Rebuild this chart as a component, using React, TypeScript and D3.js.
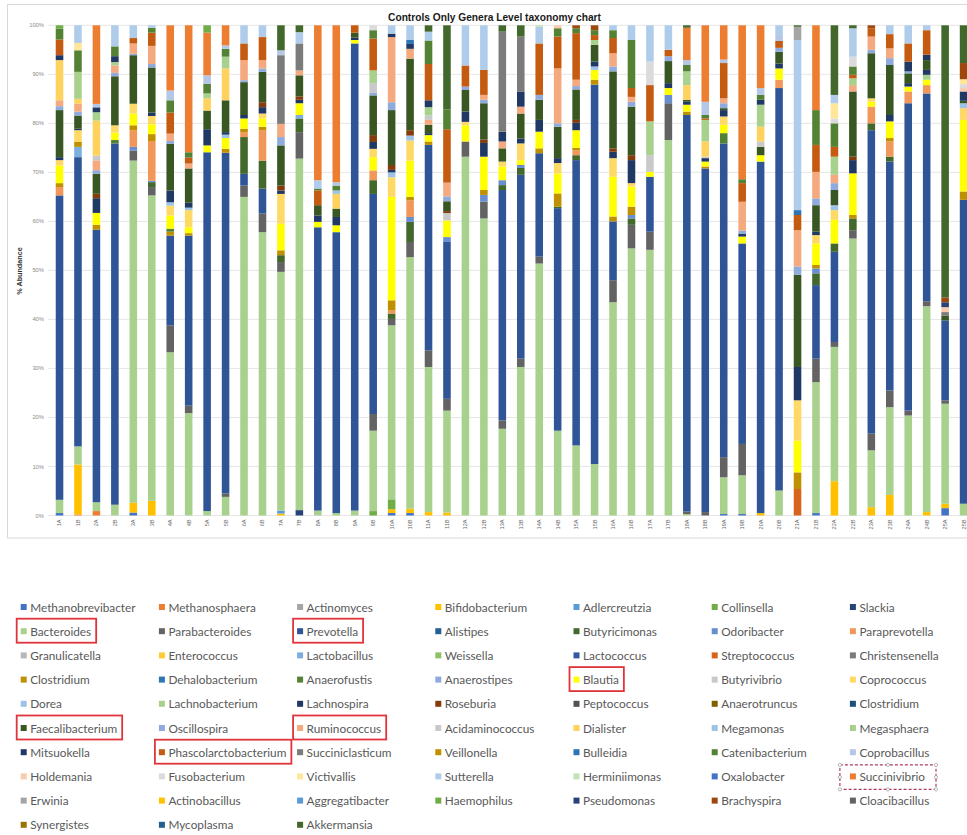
import React from "react";
import * as d3 from "d3";

type Seg = [string, number];

// ---- categories (legend order = stacking order, bottom to top) ----
const genusKeys = [
  "Methanobrevibacter", "Methanosphaera", "Actinomyces", "Bifidobacterium", "Adlercreutzia", "Collinsella", "Slackia",
  "Bacteroides", "Parabacteroides", "Prevotella", "Alistipes", "Butyricimonas", "Odoribacter", "Paraprevotella",
  "Granulicatella", "Enterococcus", "Lactobacillus", "Weissella", "Lactococcus", "Streptococcus", "Christensenella",
  "Clostridium", "Dehalobacterium", "Anaerofustis", "Anaerostipes", "Blautia", "Butyrivibrio", "Coprococcus",
  "Dorea", "Lachnobacterium", "Lachnospira", "Roseburia", "Peptococcus", "Anaerotruncus", "Clostridium#2",
  "Faecalibacterium", "Oscillospira", "Ruminococcus", "Acidaminococcus", "Dialister", "Megamonas", "Megasphaera",
  "Mitsuokella", "Phascolarctobacterium", "Succiniclasticum", "Veillonella", "Bulleidia", "Catenibacterium", "Coprobacillus",
  "Holdemania", "Fusobacterium", "Victivallis", "Sutterella", "Herminiimonas", "Oxalobacter", "Succinivibrio",
  "Erwinia", "Actinobacillus", "Aggregatibacter", "Haemophilus", "Pseudomonas", "Brachyspira", "Cloacibacillus",
  "Synergistes", "Mycoplasma", "Akkermansia",
];

const genusColors = [
  "#4472C4", "#ED7D31", "#A5A5A5", "#FFC000", "#5B9BD5", "#70AD47", "#264478",
  "#A9D18E", "#636363", "#2F5597", "#255E91", "#43682B", "#698ED0", "#F1975A",
  "#B7B7B7", "#FFCD33", "#7CAFDD", "#8CC168", "#335AA1", "#D6651B", "#7B7B7B",
  "#BF9000", "#2E75B6", "#548235", "#8FAADC", "#FFFF00", "#C9C9C9", "#FFD966",
  "#9DC3E6", "#A9D18E", "#203864", "#843C0C", "#525252", "#7F6000", "#1F4E79",
  "#385723", "#8FAADC", "#F4A97E", "#C9C9C9", "#FFD25E", "#9DC3E6", "#A9D18E",
  "#203864", "#C55A11", "#7B7B7B", "#BF9000", "#2E75B6", "#548235", "#B4C7E7",
  "#F8CBAD", "#DBDBDB", "#FFE699", "#AFCDEB", "#C5E0B4", "#4472C4", "#ED7D31",
  "#A5A5A5", "#FFC000", "#5B9BD5", "#70AD47", "#264478", "#9E480E", "#636363",
  "#997300", "#255E91", "#43682B",
];

const sampleLabels = [
  "1A", "1B", "2A", "2B", "3A", "3B", "4A", "4B", "5A", "5B", "6A", "6B", "7A", "7B", "8A", "8B", "9A", "9B",
  "10A", "10B", "11A", "11B", "12A", "12B", "13A", "13B", "14A", "14B", "15A", "15B", "16A", "16B", "17A", "17B",
  "18A", "18B", "19A", "19B", "20A", "20B", "21A", "21B", "22A", "22B", "23A", "23B", "24A", "24B", "25A", "25B",
];

const yTicks = [0, 10, 20, 30, 40, 50, 60, 70, 80, 90, 100];

const highlighted = ["Bacteroides", "Prevotella", "Blautia", "Faecalibacterium", "Ruminococcus", "Phascolarctobacterium"];
const dashedHighlight = ["Succinivibrio"];

// ---- series values: % abundance per sample (genus, value) ----
const s1A: Seg[] = [["Methanobrevibacter", 0.5], ["Bacteroides", 2.7], ["Prevotella", 62.1], ["Paraprevotella", 1.7], ["Clostridium", 0.8], ["Blautia", 3.6], ["Coprococcus", 1.1], ["Lachnospira", 0.6], ["Faecalibacterium", 9.6], ["Oscillospira", 0.8], ["Ruminococcus", 1.2], ["Dialister", 8.2], ["Mitsuokella", 1.0], ["Phascolarctobacterium", 3.2], ["Catenibacterium", 2.2], ["Haemophilus", 0.7]];
const s1B: Seg[] = [["Methanosphaera", 0.2], ["Bifidobacterium", 10.2], ["Bacteroides", 3.7], ["Prevotella", 59.0], ["Lactobacillus", 2.1], ["Clostridium", 1.0], ["Coprococcus", 2.4], ["Lachnospira", 0.3], ["Faecalibacterium", 2.7], ["Oscillospira", 0.8], ["Ruminococcus", 1.6], ["Dialister", 1.0], ["Megasphaera", 5.5], ["Catenibacterium", 4.4], ["Victivallis", 1.5], ["Sutterella", 3.6]];
const s2A: Seg[] = [["Methanosphaera", 0.9], ["Bacteroides", 1.8], ["Prevotella", 55.5], ["Clostridium", 1.0], ["Blautia", 2.4], ["Lachnospira", 3.0], ["Roseburia", 0.9], ["Faecalibacterium", 4.1], ["Oscillospira", 0.7], ["Ruminococcus", 2.0], ["Acidaminococcus", 1.0], ["Dialister", 7.1], ["Megasphaera", 1.7], ["Mitsuokella", 1.0], ["Coprobacillus", 0.7], ["Succinivibrio", 16.0]];
const s2B: Seg[] = [["Bacteroides", 2.2], ["Prevotella", 73.7], ["Anaerofustis", 0.7], ["Blautia", 1.5], ["Coprococcus", 1.5], ["Faecalibacterium", 10.0], ["Oscillospira", 0.7], ["Ruminococcus", 1.5], ["Megasphaera", 0.7], ["Mitsuokella", 1.2], ["Catenibacterium", 2.0], ["Sutterella", 4.3]];
const s3A: Seg[] = [["Methanobrevibacter", 0.6], ["Bifidobacterium", 2.0], ["Bacteroides", 69.8], ["Parabacteroides", 2.0], ["Odoribacter", 0.8], ["Paraprevotella", 3.4], ["Clostridium", 1.0], ["Blautia", 2.4], ["Coprococcus", 2.0], ["Faecalibacterium", 9.9], ["Oscillospira", 0.3], ["Ruminococcus", 2.1], ["Phascolarctobacterium", 1.1], ["Sutterella", 2.6]];
const s3B: Seg[] = [["Bifidobacterium", 3.0], ["Bacteroides", 62.3], ["Parabacteroides", 1.7], ["Butyricimonas", 1.0], ["Odoribacter", 0.3], ["Paraprevotella", 8.1], ["Clostridium", 1.4], ["Blautia", 2.0], ["Coprococcus", 1.7], ["Lachnospira", 0.7], ["Faecalibacterium", 9.2], ["Oscillospira", 0.7], ["Ruminococcus", 3.7], ["Phascolarctobacterium", 2.7], ["Catenibacterium", 1.0], ["Sutterella", 0.5]];
const s4A: Seg[] = [["Bacteroides", 33.3], ["Parabacteroides", 5.5], ["Prevotella", 18.3], ["Clostridium", 0.8], ["Anaerofustis", 0.6], ["Blautia", 2.7], ["Coprococcus", 2.0], ["Dorea", 0.7], ["Lachnospira", 2.4], ["Faecalibacterium", 9.5], ["Oscillospira", 0.6], ["Ruminococcus", 1.5], ["Phascolarctobacterium", 4.3], ["Catenibacterium", 2.5], ["Coprobacillus", 2.0], ["Succinivibrio", 13.3]];
const s4B: Seg[] = [["Bacteroides", 20.9], ["Parabacteroides", 1.5], ["Prevotella", 34.7], ["Clostridium", 0.5], ["Blautia", 1.2], ["Coprococcus", 3.5], ["Dorea", 0.5], ["Lachnospira", 1.0], ["Faecalibacterium", 7.0], ["Ruminococcus", 1.0], ["Phascolarctobacterium", 1.2], ["Catenibacterium", 1.1], ["Succinivibrio", 25.9]];
const s5A: Seg[] = [["Bacteroides", 0.9], ["Prevotella", 73.2], ["Blautia", 1.4], ["Lachnospira", 3.3], ["Faecalibacterium", 3.8], ["Dialister", 2.5], ["Megasphaera", 1.0], ["Catenibacterium", 2.0], ["Coprobacillus", 1.7], ["Succinivibrio", 8.7], ["Haemophilus", 1.5]];
const s5B: Seg[] = [["Bacteroides", 3.8], ["Parabacteroides", 0.7], ["Prevotella", 69.5], ["Clostridium", 0.8], ["Blautia", 2.2], ["Dorea", 0.7], ["Lachnospira", 0.5], ["Faecalibacterium", 6.5], ["Dialister", 6.5], ["Megasphaera", 2.4], ["Catenibacterium", 1.6], ["Coprobacillus", 0.7], ["Succinivibrio", 4.1]];
const s6A: Seg[] = [["Bacteroides", 65.0], ["Parabacteroides", 2.3], ["Prevotella", 2.4], ["Butyricimonas", 7.5], ["Paraprevotella", 1.0], ["Clostridium", 0.7], ["Blautia", 2.1], ["Lachnospira", 0.7], ["Faecalibacterium", 6.7], ["Oscillospira", 0.4], ["Ruminococcus", 4.1], ["Phascolarctobacterium", 3.4], ["Sutterella", 3.7]];
const s6B: Seg[] = [["Bacteroides", 57.8], ["Parabacteroides", 3.8], ["Prevotella", 5.1], ["Butyricimonas", 5.7], ["Paraprevotella", 6.2], ["Clostridium", 0.7], ["Blautia", 1.7], ["Coprococcus", 1.0], ["Lachnospira", 1.3], ["Roseburia", 1.0], ["Faecalibacterium", 6.2], ["Oscillospira", 0.7], ["Ruminococcus", 1.7], ["Phascolarctobacterium", 4.7], ["Sutterella", 2.4]];
const s7A: Seg[] = [["Bifidobacterium", 0.4], ["Adlercreutzia", 0.6], ["Bacteroides", 48.7], ["Parabacteroides", 2.0], ["Butyricimonas", 1.4], ["Clostridium", 1.0], ["Blautia", 5.4], ["Coprococcus", 6.1], ["Lachnospira", 0.7], ["Roseburia", 1.0], ["Faecalibacterium", 8.2], ["Oscillospira", 1.7], ["Ruminococcus", 2.7], ["Succiniclasticum", 14.0], ["Coprobacillus", 1.0], ["Akkermansia", 5.1]];
const s7B: Seg[] = [["Slackia", 1.1], ["Bacteroides", 71.7], ["Parabacteroides", 5.4], ["Butyricimonas", 2.8], ["Lactobacillus", 0.7], ["Blautia", 2.4], ["Lachnospira", 0.7], ["Roseburia", 0.7], ["Faecalibacterium", 4.3], ["Ruminococcus", 1.0], ["Succiniclasticum", 5.5], ["Sutterella", 2.3], ["Akkermansia", 1.4]];
const s8A: Seg[] = [["Bacteroides", 1.0], ["Prevotella", 57.8], ["Blautia", 1.1], ["Lachnospira", 1.3], ["Faecalibacterium", 2.1], ["Phascolarctobacterium", 3.0], ["Catenibacterium", 0.4], ["Sutterella", 1.7], ["Succinivibrio", 31.6]];
const s8B: Seg[] = [["Bacteroides", 0.5], ["Prevotella", 57.3], ["Blautia", 1.4], ["Lachnospira", 1.7], ["Faecalibacterium", 1.7], ["Dialister", 3.0], ["Megamonas", 0.7], ["Catenibacterium", 1.0], ["Coprobacillus", 0.7], ["Succinivibrio", 32.0]];
const s9A: Seg[] = [["Bacteroides", 1.0], ["Prevotella", 95.3], ["Blautia", 0.7], ["Lachnospira", 0.5], ["Faecalibacterium", 1.0], ["Phascolarctobacterium", 1.5]];
const s9B: Seg[] = [["Collinsella", 0.9], ["Bacteroides", 16.4], ["Parabacteroides", 3.4], ["Prevotella", 44.9], ["Butyricimonas", 2.8], ["Paraprevotella", 2.0], ["Blautia", 2.7], ["Coprococcus", 1.7], ["Lachnospira", 1.4], ["Roseburia", 1.4], ["Faecalibacterium", 8.1], ["Oscillospira", 0.5], ["Acidaminococcus", 2.0], ["Megasphaera", 2.6], ["Phascolarctobacterium", 6.5], ["Catenibacterium", 1.7], ["Fusobacterium", 1.0]];
const s10A: Seg[] = [["Methanobrevibacter", 0.5], ["Bifidobacterium", 0.8], ["Collinsella", 2.0], ["Bacteroides", 35.5], ["Parabacteroides", 1.3], ["Butyricimonas", 1.1], ["Paraprevotella", 0.6], ["Clostridium", 2.1], ["Blautia", 21.1], ["Coprococcus", 4.0], ["Dorea", 1.0], ["Lachnospira", 0.5], ["Roseburia", 1.0], ["Faecalibacterium", 11.2], ["Oscillospira", 1.6], ["Ruminococcus", 13.3], ["Mitsuokella", 0.7], ["Sutterella", 1.7]];
const s10B: Seg[] = [["Methanobrevibacter", 0.5], ["Bifidobacterium", 0.9], ["Bacteroides", 51.3], ["Parabacteroides", 3.1], ["Butyricimonas", 4.1], ["Odoribacter", 1.0], ["Paraprevotella", 3.4], ["Clostridium", 0.7], ["Blautia", 7.4], ["Coprococcus", 4.1], ["Dorea", 1.0], ["Roseburia", 1.1], ["Faecalibacterium", 14.6], ["Ruminococcus", 2.0], ["Mitsuokella", 1.0], ["Bulleidia", 0.8], ["Sutterella", 3.0]];
const s11A: Seg[] = [["Bifidobacterium", 0.7], ["Bacteroides", 29.6], ["Parabacteroides", 3.4], ["Prevotella", 41.9], ["Clostridium", 0.7], ["Blautia", 1.3], ["Lachnospira", 0.4], ["Faecalibacterium", 1.7], ["Ruminococcus", 1.0], ["Acidaminococcus", 0.9], ["Megasphaera", 1.7], ["Mitsuokella", 1.4], ["Phascolarctobacterium", 7.4], ["Catenibacterium", 4.8], ["Sutterella", 1.8], ["Akkermansia", 1.3]];
const s11B: Seg[] = [["Bifidobacterium", 0.6], ["Bacteroides", 20.8], ["Parabacteroides", 2.4], ["Prevotella", 32.0], ["Odoribacter", 1.0], ["Blautia", 3.4], ["Butyrivibrio", 1.5], ["Roseburia", 0.4], ["Faecalibacterium", 2.0], ["Oscillospira", 1.0], ["Ruminococcus", 2.8], ["Phascolarctobacterium", 10.9], ["Catenibacterium", 4.0], ["Akkermansia", 17.2]];
const s12A: Seg[] = [["Bacteroides", 73.2], ["Parabacteroides", 3.1], ["Blautia", 3.3], ["Coprococcus", 0.7], ["Lachnospira", 2.1], ["Faecalibacterium", 4.4], ["Oscillospira", 0.7], ["Phascolarctobacterium", 4.3], ["Sutterella", 8.2]];
const s12B: Seg[] = [["Bacteroides", 60.6], ["Parabacteroides", 3.4], ["Odoribacter", 1.4], ["Clostridium", 1.0], ["Blautia", 6.8], ["Lachnospira", 2.8], ["Roseburia", 0.7], ["Faecalibacterium", 7.4], ["Oscillospira", 0.7], ["Ruminococcus", 1.0], ["Phascolarctobacterium", 5.1], ["Sutterella", 9.1]];
const s13A: Seg[] = [["Bacteroides", 17.7], ["Parabacteroides", 1.7], ["Prevotella", 47.0], ["Butyricimonas", 1.0], ["Odoribacter", 1.0], ["Blautia", 2.8], ["Coprococcus", 1.0], ["Faecalibacterium", 2.7], ["Ruminococcus", 1.4], ["Mitsuokella", 2.0], ["Succiniclasticum", 20.4], ["Akkermansia", 1.3]];
const s13B: Seg[] = [["Bacteroides", 30.3], ["Parabacteroides", 1.7], ["Prevotella", 37.5], ["Butyricimonas", 1.4], ["Odoribacter", 0.6], ["Blautia", 1.0], ["Coprococcus", 3.4], ["Lachnospira", 1.0], ["Faecalibacterium", 5.1], ["Ruminococcus", 1.4], ["Mitsuokella", 3.1], ["Succiniclasticum", 11.2], ["Akkermansia", 2.3]];
const s14A: Seg[] = [["Bacteroides", 51.4], ["Parabacteroides", 1.4], ["Prevotella", 21.1], ["Clostridium", 1.0], ["Blautia", 3.4], ["Lachnospira", 2.4], ["Faecalibacterium", 4.1], ["Oscillospira", 1.0], ["Phascolarctobacterium", 10.5], ["Sutterella", 3.4], ["Herminiimonas", 0.3]];
const s14B: Seg[] = [["Bacteroides", 17.3], ["Prevotella", 45.4], ["Butyricimonas", 0.3], ["Clostridium", 2.7], ["Blautia", 4.1], ["Coprococcus", 2.1], ["Lachnospira", 1.0], ["Faecalibacterium", 6.4], ["Oscillospira", 0.7], ["Ruminococcus", 11.2], ["Phascolarctobacterium", 6.5], ["Catenibacterium", 1.7], ["Holdemania", 0.6]];
const s15A: Seg[] = [["Bacteroides", 14.3], ["Prevotella", 58.2], ["Butyricimonas", 1.0], ["Paraprevotella", 1.0], ["Clostridium", 0.5], ["Blautia", 3.6], ["Lachnospira", 1.5], ["Roseburia", 0.6], ["Faecalibacterium", 6.2], ["Oscillospira", 0.7], ["Ruminococcus", 1.3], ["Phascolarctobacterium", 9.5], ["Catenibacterium", 1.0], ["Brachyspira", 0.6]];
const s15B: Seg[] = [["Bacteroides", 10.5], ["Prevotella", 77.4], ["Clostridium", 1.0], ["Blautia", 2.0], ["Dorea", 0.7], ["Lachnospira", 1.0], ["Faecalibacterium", 3.4], ["Megasphaera", 1.0], ["Phascolarctobacterium", 1.0], ["Catenibacterium", 1.0], ["Brachyspira", 1.0]];
const s16A: Seg[] = [["Bacteroides", 43.5], ["Parabacteroides", 4.5], ["Prevotella", 12.0], ["Clostridium", 1.0], ["Blautia", 8.1], ["Coprococcus", 3.8], ["Lachnospira", 1.3], ["Roseburia", 0.7], ["Faecalibacterium", 15.7], ["Oscillospira", 1.0], ["Ruminococcus", 2.7], ["Phascolarctobacterium", 3.1], ["Catenibacterium", 1.6], ["Sutterella", 1.0]];
const s16B: Seg[] = [["Bacteroides", 54.5], ["Parabacteroides", 4.8], ["Butyricimonas", 1.3], ["Odoribacter", 0.7], ["Clostridium", 1.7], ["Blautia", 4.1], ["Coprococcus", 0.7], ["Lachnospira", 4.7], ["Roseburia", 1.0], ["Faecalibacterium", 9.9], ["Oscillospira", 1.0], ["Ruminococcus", 1.0], ["Phascolarctobacterium", 1.8], ["Catenibacterium", 9.8], ["Sutterella", 3.0]];
const s17A: Seg[] = [["Bacteroides", 54.2], ["Parabacteroides", 3.7], ["Prevotella", 11.2], ["Blautia", 1.0], ["Butyrivibrio", 3.4], ["Megasphaera", 6.9], ["Phascolarctobacterium", 7.4], ["Fusobacterium", 4.8], ["Sutterella", 7.4]];
const s17B: Seg[] = [["Bacteroides", 76.6], ["Parabacteroides", 7.5], ["Odoribacter", 1.7], ["Blautia", 1.4], ["Lachnospira", 1.0], ["Faecalibacterium", 4.5], ["Oscillospira", 1.0], ["Phascolarctobacterium", 1.3], ["Sutterella", 5.0]];
const s18A: Seg[] = [["Bacteroides", 0.3], ["Parabacteroides", 0.5], ["Prevotella", 80.9], ["Clostridium", 0.7], ["Blautia", 1.4], ["Lachnospira", 0.6], ["Faecalibacterium", 0.4], ["Dialister", 3.0], ["Megasphaera", 2.8], ["Catenibacterium", 1.3], ["Coprobacillus", 1.0], ["Succinivibrio", 6.6], ["Akkermansia", 0.5]];
const s18B: Seg[] = [["Parabacteroides", 0.7], ["Prevotella", 70.1], ["Clostridium", 0.4], ["Blautia", 1.0], ["Lachnospira", 0.7], ["Acidaminococcus", 0.3], ["Dialister", 3.1], ["Megasphaera", 4.4], ["Phascolarctobacterium", 0.3], ["Catenibacterium", 0.7], ["Coprobacillus", 2.7], ["Succinivibrio", 15.6]];
const s19A: Seg[] = [["Methanobrevibacter", 0.3], ["Bacteroides", 7.5], ["Parabacteroides", 4.1], ["Prevotella", 64.0], ["Anaerofustis", 2.1], ["Blautia", 1.7], ["Coprococcus", 1.7], ["Lachnospira", 1.3], ["Faecalibacterium", 0.4], ["Oscillospira", 1.0], ["Ruminococcus", 1.0], ["Phascolarctobacterium", 7.2], ["Coprobacillus", 0.7], ["Succinivibrio", 7.0]];
const s19B: Seg[] = [["Methanobrevibacter", 0.3], ["Bacteroides", 7.9], ["Parabacteroides", 6.4], ["Prevotella", 40.9], ["Blautia", 1.4], ["Lachnospira", 0.6], ["Oscillospira", 0.6], ["Ruminococcus", 5.9], ["Phascolarctobacterium", 3.8], ["Catenibacterium", 0.8], ["Succinivibrio", 31.4]];
const s20A: Seg[] = [["Bifidobacterium", 0.5], ["Prevotella", 71.7], ["Blautia", 1.3], ["Faecalibacterium", 1.7], ["Acidaminococcus", 1.1], ["Dialister", 3.0], ["Megasphaera", 4.5], ["Mitsuokella", 1.0], ["Catenibacterium", 1.0], ["Coprobacillus", 1.4], ["Succinivibrio", 12.8]];
const s20B: Seg[] = [["Bacteroides", 5.1], ["Prevotella", 82.1], ["Paraprevotella", 1.7], ["Blautia", 2.3], ["Lachnospira", 1.0], ["Faecalibacterium", 2.4], ["Oscillospira", 0.8], ["Phascolarctobacterium", 1.4], ["Coprobacillus", 1.2], ["Sutterella", 2.0]];
const s21A: Seg[] = [["Streptococcus", 5.4], ["Clostridium", 3.4], ["Blautia", 6.5], ["Coprococcus", 8.2], ["Lachnospira", 6.8], ["Faecalibacterium", 18.8], ["Oscillospira", 1.7], ["Ruminococcus", 7.4], ["Phascolarctobacterium", 3.1], ["Bulleidia", 1.0], ["Sutterella", 34.7], ["Erwinia", 2.7], ["Akkermansia", 0.3]];
const s21B: Seg[] = [["Methanobrevibacter", 0.5], ["Bacteroides", 26.7], ["Parabacteroides", 4.8], ["Prevotella", 15.0], ["Butyricimonas", 2.4], ["Odoribacter", 1.0], ["Clostridium", 0.7], ["Blautia", 4.4], ["Coprococcus", 1.7], ["Lachnospira", 0.7], ["Faecalibacterium", 5.4], ["Oscillospira", 1.4], ["Ruminococcus", 5.4], ["Phascolarctobacterium", 5.5], ["Catenibacterium", 7.1], ["Succinivibrio", 17.3]];
const s22A: Seg[] = [["Bifidobacterium", 7.0], ["Bacteroides", 27.4], ["Parabacteroides", 1.0], ["Prevotella", 18.4], ["Butyricimonas", 1.7], ["Blautia", 4.8], ["Coprococcus", 2.0], ["Dorea", 1.0], ["Faecalibacterium", 3.1], ["Oscillospira", 1.4], ["Ruminococcus", 1.7], ["Megasphaera", 3.7], ["Phascolarctobacterium", 2.0], ["Catenibacterium", 4.8], ["Fusobacterium", 1.0], ["Victivallis", 3.1], ["Sutterella", 1.7], ["Akkermansia", 14.2]];
const s22B: Seg[] = [["Bacteroides", 56.5], ["Parabacteroides", 1.7], ["Butyricimonas", 2.4], ["Clostridium", 0.7], ["Blautia", 8.5], ["Lachnospira", 2.7], ["Roseburia", 0.7], ["Faecalibacterium", 13.3], ["Ruminococcus", 1.3], ["Megasphaera", 1.4], ["Phascolarctobacterium", 0.7], ["Catenibacterium", 1.7], ["Fusobacterium", 2.0], ["Sutterella", 5.8], ["Akkermansia", 0.6]];
const s23A: Seg[] = [["Bifidobacterium", 1.7], ["Bacteroides", 11.6], ["Parabacteroides", 3.4], ["Prevotella", 61.9], ["Butyricimonas", 1.4], ["Paraprevotella", 3.4], ["Blautia", 1.0], ["Coprococcus", 0.7], ["Faecalibacterium", 9.2], ["Oscillospira", 0.7], ["Ruminococcus", 2.7], ["Phascolarctobacterium", 1.7], ["Brachyspira", 0.6]];
const s23B: Seg[] = [["Bifidobacterium", 4.2], ["Bacteroides", 17.9], ["Parabacteroides", 3.4], ["Prevotella", 46.7], ["Butyricimonas", 1.0], ["Paraprevotella", 3.1], ["Clostridium", 0.7], ["Blautia", 3.4], ["Lachnospira", 1.3], ["Faecalibacterium", 10.2], ["Oscillospira", 1.4], ["Ruminococcus", 2.0], ["Phascolarctobacterium", 2.9], ["Sutterella", 1.8]];
const s24A: Seg[] = [["Bacteroides", 20.4], ["Parabacteroides", 1.0], ["Prevotella", 62.7], ["Paraprevotella", 2.4], ["Blautia", 1.0], ["Lachnospira", 0.7], ["Faecalibacterium", 2.0], ["Oscillospira", 0.4], ["Mitsuokella", 2.0], ["Phascolarctobacterium", 3.7], ["Sutterella", 3.7]];
const s24B: Seg[] = [["Bifidobacterium", 0.7], ["Bacteroides", 42.0], ["Parabacteroides", 1.0], ["Prevotella", 42.4], ["Paraprevotella", 1.7], ["Blautia", 1.1], ["Lachnobacterium", 1.0], ["Lachnospira", 1.0], ["Faecalibacterium", 2.0], ["Mitsuokella", 1.1], ["Phascolarctobacterium", 5.0], ["Sutterella", 1.0]];
const s25A: Seg[] = [["Methanobrevibacter", 1.5], ["Bifidobacterium", 0.9], ["Bacteroides", 20.4], ["Parabacteroides", 0.7], ["Prevotella", 16.3], ["Faecalibacterium", 1.0], ["Succiniclasticum", 0.7], ["Holdemania", 1.0], ["Pseudomonas", 1.0], ["Brachyspira", 1.0], ["Akkermansia", 55.5]];
const s25B: Seg[] = [["Bacteroides", 2.4], ["Prevotella", 62.0], ["Clostridium", 1.7], ["Blautia", 14.6], ["Coprococcus", 2.4], ["Dorea", 1.0], ["Faecalibacterium", 0.5], ["Mitsuokella", 1.9], ["Holdemania", 0.7], ["Fusobacterium", 0.8], ["Victivallis", 1.0], ["Brachyspira", 3.3], ["Akkermansia", 7.7]];

const sampleSegments: Seg[][] = [
  s1A, s1B, s2A, s2B, s3A, s3B, s4A, s4B, s5A, s5B, s6A, s6B, s7A, s7B, s8A, s8B, s9A, s9B,
  s10A, s10B, s11A, s11B, s12A, s12B, s13A, s13B, s14A, s14B, s15A, s15B, s16A, s16B, s17A, s17B,
  s18A, s18B, s19A, s19B, s20A, s20B, s21A, s21B, s22A, s22B, s23A, s23B, s24A, s24B, s25A, s25B,
];

// ---- layout ----
const W = 967;
const H = 835;
const plotLeft = 50.3;
const plotRight = 972.8;
const plotTop = 25.3;
const plotBottom = 515.5;
const legendFont = "Lato, 'Open Sans', sans-serif";
const legendFontSize = 11.8;
const legendCols = 7;
const legendX0 = 20.7;
const legendColStep = 138.2;
const legendY0 = 607;
const legendRowStep = 24.2;

let measureCtx: CanvasRenderingContext2D | null = null;
function textWidth(s: string, font: string): number {
  if (!measureCtx) {
    const c = document.createElement("canvas");
    measureCtx = c.getContext("2d");
  }
  if (!measureCtx) return s.length * 6;
  measureCtx.font = font;
  return measureCtx.measureText(s).width;
}

export default function App() {
  const rows = sampleLabels.map((label, i) => {
    const row: Record<string, number | string> = { sample: label };
    genusKeys.forEach((k) => (row[k] = 0));
    sampleSegments[i].forEach(([g, v]) => {
      row[g] = (row[g] as number) + v;
    });
    return row;
  });

  const stack = d3
    .stack<Record<string, number | string>>()
    .keys(genusKeys)
    .value((d, k) => d[k] as number)
    .offset(d3.stackOffsetExpand);
  const series = stack(rows);

  const x = d3
    .scaleBand<string>()
    .domain(sampleLabels)
    .range([plotLeft, plotRight])
    .paddingInner(0.59)
    .paddingOuter(0.295);
  const y = d3.scaleLinear().domain([0, 1]).range([plotBottom, plotTop]);
  const color = d3.scaleOrdinal<string, string>().domain(genusKeys).range(genusColors);

  const legendItems = genusKeys.map((k, i) => {
    const label = k.replace(/#\d+$/, "");
    const col = i % legendCols;
    const row = Math.floor(i / legendCols);
    return { key: k, label, x: legendX0 + col * legendColStep, y: legendY0 + row * legendRowStep };
  });
  const fontSpec = `${legendFontSize}px Lato`;

  return (
    <div style={{ position: "absolute", left: 0, top: 0 }}>
      <svg width={W} height={H} style={{ display: "block", background: "#fff" }}>
        <rect x={7.5} y={4.5} width={980} height={533.5} fill="#fff" stroke="#D9D9D9" strokeWidth={1} />
        <text
          x={494.5}
          y={20.5}
          textAnchor="middle"
          fontFamily="'Liberation Sans', Arial, sans-serif"
          fontWeight="bold"
          fontSize={10.2}
          fill="#1a1a1a"
        >
          Controls Only Genera Level taxonomy chart
        </text>
        {/* gridlines */}
        {yTicks.map((t) => (
          <line key={`g${t}`} x1={48} x2={W} y1={y(t / 100)} y2={y(t / 100)} stroke="#E3E3E3" strokeWidth={0.9} />
        ))}
        {/* y tick labels */}
        {yTicks.map((t) => (
          <text
            key={`t${t}`}
            x={44}
            y={y(t / 100)}
            dy="0.35em"
            textAnchor="end"
            fontFamily="'Liberation Sans', Arial, sans-serif"
            fontSize={5.8}
            fill="#8C8C8C"
          >
            {`${t}%`}
          </text>
        ))}
        <text
          transform={`translate(22,271) rotate(-90)`}
          textAnchor="middle"
          fontFamily="'Liberation Sans', Arial, sans-serif"
          fontWeight="bold"
          fontSize={7.2}
          fill="#333"
        >
          % Abundance
        </text>
        {/* bars */}
        {series.map((s) => (
          <g key={s.key} fill={color(s.key)}>
            {s.map((d, di) =>
              d[1] - d[0] > 0 ? (
                <rect
                  key={di}
                  x={x(sampleLabels[di])}
                  width={x.bandwidth()}
                  y={y(d[1])}
                  height={y(d[0]) - y(d[1])}
                />
              ) : null
            )}
          </g>
        ))}
        {/* x labels */}
        {sampleLabels.map((l) => (
          <text
            key={`x${l}`}
            transform={`translate(${(x(l) as number) + x.bandwidth() / 2},${plotBottom + 4}) rotate(-90)`}
            dy="0.35em"
            textAnchor="end"
            fontFamily="'Liberation Sans', Arial, sans-serif"
            fontSize={5.6}
            fill="#666"
          >
            {l}
          </text>
        ))}
        {/* legend */}
        {legendItems.map((it) => (
          <g key={`l${it.key}`}>
            <rect x={it.x} y={it.y - 3} width={6} height={6} fill={color(it.key)} />
            <text
              x={it.x + 9.5}
              y={it.y}
              dominantBaseline="central"
              fontFamily={legendFont}
              fontSize={legendFontSize}
              fill="#595959"
            >
              {it.label}
            </text>
          </g>
        ))}
        {/* highlight boxes */}
        {legendItems
          .filter((it) => highlighted.includes(it.key))
          .map((it) => {
            const w = textWidth(it.label, fontSpec);
            return (
              <rect
                key={`h${it.key}`}
                x={it.x - 4}
                y={it.y - 12.5}
                width={9.5 + w + 9}
                height={24}
                fill="none"
                stroke="#E0343A"
                strokeWidth={1.8}
              />
            );
          })}
        {legendItems
          .filter((it) => dashedHighlight.includes(it.key))
          .map((it) => {
            const w = textWidth(it.label, fontSpec);
            const bx = it.x - 10;
            const by = it.y - 11.5;
            const bw = 9.5 + w + 21;
            const bh = 24.5;
            const handles = [
              [bx, by], [bx + bw / 2, by], [bx + bw, by],
              [bx, by + bh / 2], [bx + bw, by + bh / 2],
              [bx, by + bh], [bx + bw / 2, by + bh], [bx + bw, by + bh],
            ];
            return (
              <g key={`d${it.key}`}>
                <rect x={bx} y={by} width={bw} height={bh} fill="none" stroke="#B03A62" strokeWidth={1.2} strokeDasharray="3 2" />
                {handles.map(([hx, hy], hi) => (
                  <circle key={hi} cx={hx} cy={hy} r={1.6} fill="#fff" stroke="#8a8a8a" strokeWidth={0.6} />
                ))}
              </g>
            );
          })}
      </svg>
    </div>
  );
}
